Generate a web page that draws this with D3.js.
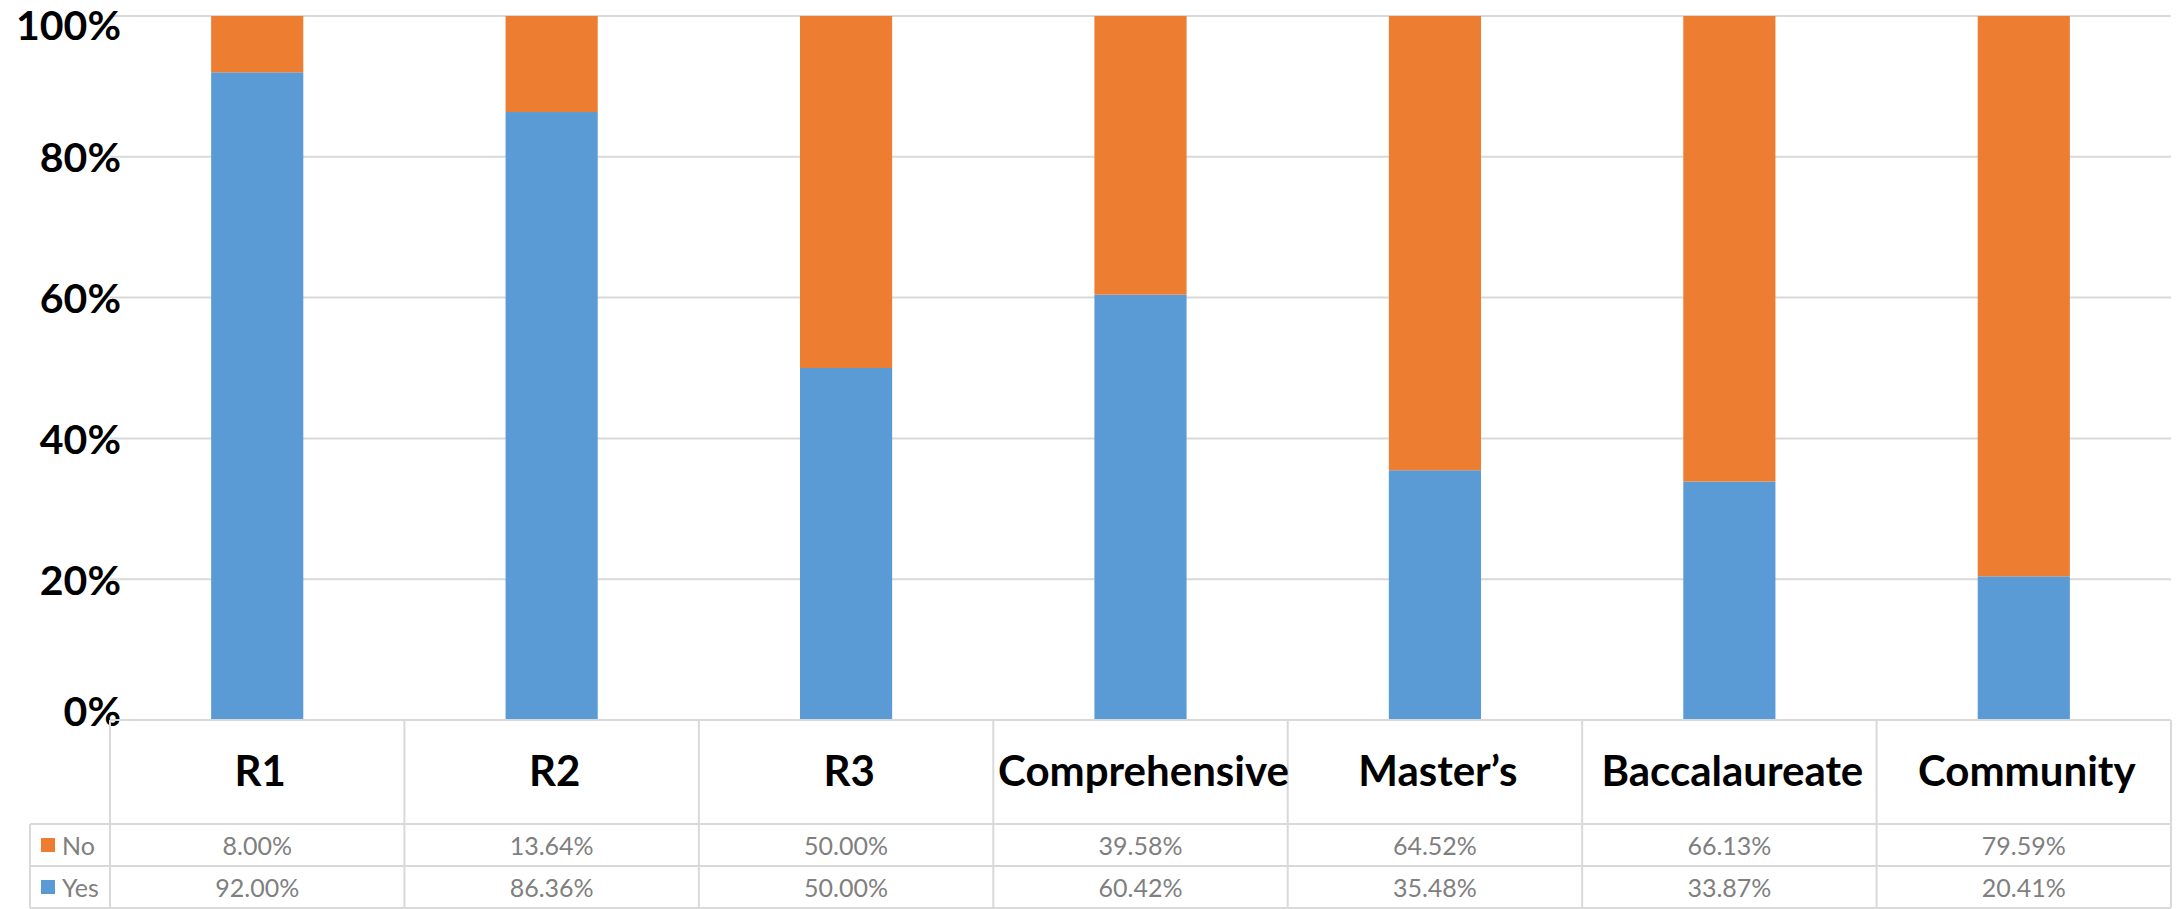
<!DOCTYPE html>
<html>
<head>
<meta charset="utf-8">
<script src="https://cdn.jsdelivr.net/npm/d3@7"></script>
<style>
  html, body { margin: 0; padding: 0; background: #fff; }
  svg { display: block; }
</style>
</head>
<body>
<svg id="chart" width="2182" height="909"></svg>
<script>
const categories = ["R1", "R2", "R3", "Comprehensive", "Master\u2019s", "Baccalaureate", "Community"];
const yesValues = [92.00, 86.36, 50.00, 60.42, 35.48, 33.87, 20.41];
const noValues  = [8.00, 13.64, 50.00, 39.58, 64.52, 66.13, 79.59];
const seriesNames = ["No", "Yes"];
const yTicks = [0, 20, 40, 60, 80, 100];

const colors = { Yes: "#5B9BD5", No: "#ED7D31" };
const gridColor = "#d9d9d9";
const textGrey = "#7f7f7f";

const W = 2182, H = 909;
const plotLeft = 110, plotRight = 2171, plotTop = 16, plotBottom = 720;
const headerBottom = 824, rowNoBottom = 866, rowYesBottom = 908;
const legendLeft = 30;

const svg = d3.select("#chart");

const x = d3.scaleBand().domain(categories).range([plotLeft, plotRight]).padding(0);
const y = d3.scaleLinear().domain([0, 100]).range([plotBottom, plotTop]);
const bw = x.bandwidth();
const barW = bw * 0.313;

// gridlines
svg.append("g").selectAll("line").data(yTicks.filter(t => t > 0)).join("line")
  .attr("x1", plotLeft).attr("x2", plotRight)
  .attr("y1", d => y(d)).attr("y2", d => y(d))
  .attr("stroke", gridColor).attr("stroke-width", 2);

// stacked bars
const rows = categories.map((c, i) => ({ cat: c, Yes: yesValues[i], No: noValues[i] }));
const stack = d3.stack().keys(["Yes", "No"]);
const stacked = stack(rows);
svg.append("g").selectAll("g").data(stacked).join("g")
  .attr("fill", d => colors[d.key])
  .selectAll("rect").data(d => d).join("rect")
  .attr("x", d => x(d.data.cat) + (bw - barW) / 2)
  .attr("width", barW)
  .attr("y", d => y(d[1]))
  .attr("height", d => y(d[0]) - y(d[1]));

// y axis labels
svg.append("g").selectAll("text").data(yTicks).join("text")
  .attr("x", 121)
  .attr("y", d => Math.min(Math.max(y(d), 24), 710))
  .attr("text-anchor", "end")
  .attr("dominant-baseline", "central")
  .attr("font-family", "Lato, sans-serif")
  .attr("font-weight", "bold")
  .attr("font-size", 41)
  .attr("fill", "#000")
  .text(d => d + "%");

// data table
const tbl = svg.append("g").attr("stroke", gridColor).attr("stroke-width", 2).attr("fill", "none");
tbl.append("line").attr("x1", plotLeft).attr("x2", plotRight).attr("y1", plotBottom).attr("y2", plotBottom);
[headerBottom, rowNoBottom, rowYesBottom].forEach(yy => {
  tbl.append("line").attr("x1", legendLeft).attr("x2", plotRight).attr("y1", yy).attr("y2", yy);
});
tbl.append("line").attr("x1", legendLeft).attr("x2", legendLeft).attr("y1", headerBottom).attr("y2", rowYesBottom);
const bounds = categories.map(c => x(c)).concat([plotRight]);
tbl.selectAll("line.v").data(bounds).join("line").attr("class", "v")
  .attr("x1", d => d).attr("x2", d => d)
  .attr("y1", plotBottom).attr("y2", rowYesBottom);

// category labels
svg.append("g").selectAll("text").data(categories).join("text")
  .attr("x", d => x(d) + bw / 2 + 3)
  .attr("y", (plotBottom + headerBottom) / 2 - 2)
  .attr("text-anchor", "middle")
  .attr("dominant-baseline", "central")
  .attr("font-family", "Lato, sans-serif")
  .attr("font-weight", "bold")
  .attr("font-size", 42)
  .attr("fill", "#000")
  .text(d => d);

// value rows
const rowDefs = [
  { name: "No", vals: noValues, top: headerBottom, bottom: rowNoBottom },
  { name: "Yes", vals: yesValues, top: rowNoBottom, bottom: rowYesBottom }
];
rowDefs.forEach(r => {
  const cy = (r.top + r.bottom) / 2;
  const g = svg.append("g");
  g.selectAll("text").data(categories).join("text")
    .attr("x", d => x(d) + bw / 2)
    .attr("y", cy)
    .attr("text-anchor", "middle")
    .attr("dominant-baseline", "central")
    .attr("font-family", "Lato, sans-serif")
    .attr("font-size", 25)
    .attr("fill", textGrey)
    .text((d, i) => r.vals[i].toFixed(2) + "%");
  g.append("rect")
    .attr("x", 41).attr("y", cy - 7).attr("width", 14).attr("height", 14)
    .attr("fill", colors[r.name]);
  g.append("text")
    .attr("x", 62).attr("y", cy)
    .attr("dominant-baseline", "central")
    .attr("font-family", "Lato, sans-serif")
    .attr("font-size", 25)
    .attr("fill", textGrey)
    .text(r.name);
});
</script>
</body>
</html>
